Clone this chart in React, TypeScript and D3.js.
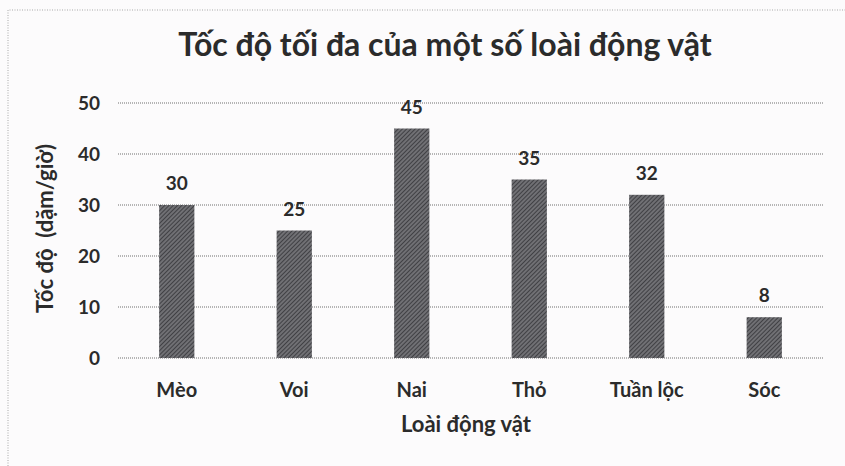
import React, { useEffect, useRef } from 'react';
import * as d3 from 'd3';

// data
const animals = ['Mèo', 'Voi', 'Nai', 'Thỏ', 'Tuần lộc', 'Sóc'];
const speeds = [30, 25, 45, 35, 32, 8];
const yTicks = [0, 10, 20, 30, 40, 50];

const W = 845;
const H = 466;
const FONT = 'Lato, "Open Sans", sans-serif';

const App = () => {
  const svgRef = useRef<SVGSVGElement | null>(null);

  useEffect(() => {
    if (!svgRef.current) return;
    const svg = d3.select(svgRef.current);
    svg.selectAll('*').remove();

    const margin = { top: 103, right: 22, bottom: 108, left: 118 };
    const innerW = W - margin.left - margin.right;
    const innerH = H - margin.top - margin.bottom;

    // hatch pattern for bars
    const defs = svg.append('defs');
    const pat = defs.append('pattern')
      .attr('id', 'hatch')
      .attr('patternUnits', 'userSpaceOnUse')
      .attr('width', 3)
      .attr('height', 3)
      .attr('patternTransform', 'rotate(45)');
    pat.append('rect').attr('width', 3).attr('height', 3).attr('fill', '#707074');
    pat.append('rect').attr('width', 1).attr('height', 3).attr('fill', '#404044');

    svg.append('rect').attr('width', W).attr('height', H).attr('fill', '#fcfbfc');

    // dotted frame of the scanned chart
    svg.append('path')
      .attr('d', `M8,${H} L8,10 L${W},10`)
      .attr('fill', 'none')
      .attr('stroke', '#a8a8a8')
      .attr('stroke-width', 1)
      .attr('stroke-dasharray', '1,1.5');

    svg.append('text')
      .attr('x', 445)
      .attr('y', 56)
      .attr('text-anchor', 'middle')
      .attr('font-family', FONT)
      .attr('font-weight', 700)
      .attr('font-size', 32)
      .attr('fill', '#2b2b2b')
      .text('Tốc độ tối đa của một số loài động vật');

    const g = svg.append('g').attr('transform', `translate(${margin.left},${margin.top})`);

    const x = d3.scaleBand().domain(animals).range([0, innerW]).paddingInner(0.7).paddingOuter(0.35);
    const y = d3.scaleLinear().domain([0, 50]).range([innerH, 0]);

    // gridlines
    g.selectAll('.grid')
      .data(yTicks)
      .enter()
      .append('line')
      .attr('x1', 0)
      .attr('x2', innerW)
      .attr('y1', d => y(d))
      .attr('y2', d => y(d))
      .attr('stroke', '#6f6f6f')
      .attr('stroke-width', 1)
      .attr('stroke-dasharray', '1,1');

    // y tick labels
    g.selectAll('.ytick')
      .data(yTicks)
      .enter()
      .append('text')
      .attr('x', -18)
      .attr('y', d => y(d))
      .attr('dy', '0.35em')
      .attr('text-anchor', 'end')
      .attr('font-family', FONT)
      .attr('font-weight', 700)
      .attr('font-size', 19)
      .attr('fill', '#2b2b2b')
      .text(d => d);

    // bars
    g.selectAll('.bar')
      .data(animals)
      .enter()
      .append('rect')
      .attr('x', d => x(d)!)
      .attr('width', x.bandwidth())
      .attr('y', (d, i) => y(speeds[i]))
      .attr('height', (d, i) => innerH - y(speeds[i]))
      .attr('fill', 'url(#hatch)');

    // value labels
    g.selectAll('.val')
      .data(animals)
      .enter()
      .append('text')
      .attr('x', d => x(d)! + x.bandwidth() / 2)
      .attr('y', (d, i) => y(speeds[i]) - 15)
      .attr('text-anchor', 'middle')
      .attr('font-family', FONT)
      .attr('font-weight', 700)
      .attr('font-size', 19)
      .attr('fill', '#2b2b2b')
      .text((d, i) => speeds[i]);

    // category labels
    g.selectAll('.cat')
      .data(animals)
      .enter()
      .append('text')
      .attr('x', d => x(d)! + x.bandwidth() / 2)
      .attr('y', innerH + 39)
      .attr('text-anchor', 'middle')
      .attr('font-family', FONT)
      .attr('font-weight', 700)
      .attr('font-size', 20)
      .attr('fill', '#2b2b2b')
      .text(d => d);

    // axis titles
    svg.append('text')
      .attr('x', 466)
      .attr('y', 432)
      .attr('text-anchor', 'middle')
      .attr('font-family', FONT)
      .attr('font-weight', 700)
      .attr('font-size', 22)
      .attr('fill', '#2b2b2b')
      .text('Loài động vật');

    svg.append('text')
      .attr('transform', `translate(53,${margin.top + innerH / 2 - 2}) rotate(-90)`)
      .attr('text-anchor', 'middle')
      .attr('font-family', FONT)
      .attr('font-weight', 700)
      .attr('font-size', 22)
      .attr('fill', '#2b2b2b')
      .attr('xml:space', 'preserve')
      .style('white-space', 'pre')
      .text('Tốc độ  (dặm/giờ)');
  }, []);

  return (
    <svg ref={svgRef} width={W} height={H} style={{ display: 'block', position: 'absolute', left: 0, top: 0 }} />
  );
};

export default App;
